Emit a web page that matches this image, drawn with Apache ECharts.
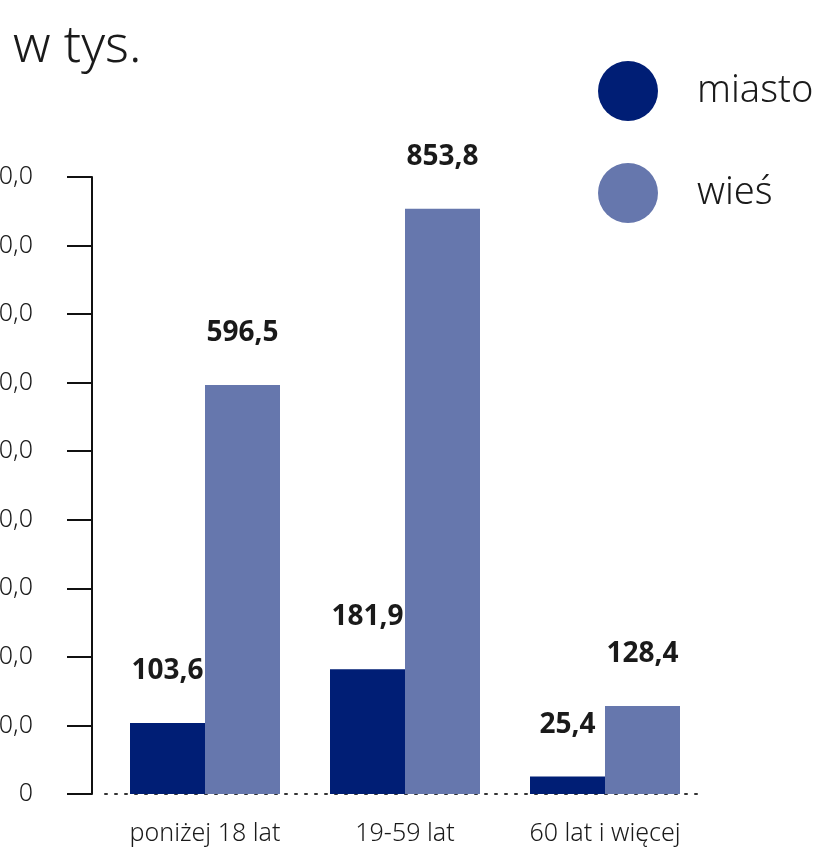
<!DOCTYPE html>
<html>
<head>
<meta charset="utf-8">
<script src="https://cdn.jsdelivr.net/npm/echarts@6/dist/echarts.min.js"></script>
<style>
    html, body { margin: 0; padding: 0; background: #fff; }
    #chart { width: 820px; height: 850px; }
</style>
</head>
<body>
<div id="chart"></div>
<script>
// dane (w tys.)
const categories = ["poniżej 18 lat", "19-59 lat", "60 lat i więcej"];
const miasto = [103.6, 181.9, 25.4];
const wies = [596.5, 853.8, 128.4];

const FONT = "'Noto Sans', 'Open Sans', sans-serif";

function fmt(v) {
    return v === 0 ? "0" : v.toFixed(1).replace(".", ",");
}

const chart = echarts.init(document.getElementById("chart"));

const valueLabel = {
    show: true,
    position: "top",
    distance: 38,
    fontFamily: FONT,
    fontSize: 28,
    fontWeight: "bold",
    color: "#1a1a1a",
    formatter: p => fmt(p.value)
};

chart.setOption({
    animation: false,
    title: {
        text: "w tys.",
        left: 8,
        top: 17,
        textStyle: {
            fontFamily: FONT,
            fontSize: 51,
            fontWeight: 300,
            color: "#1a1a1a"
        }
    },
    legend: {
        orient: "vertical",
        left: 593,
        top: 56,
        itemWidth: 60,
        itemHeight: 60,
        itemGap: 42,
        icon: "circle",
        textStyle: {
            fontFamily: FONT,
            fontSize: 38,
            fontWeight: 300,
            color: "#1a1a1a",
            padding: [0, 0, 0, 34]
        },
        data: ["miasto", "wieś"]
    },
    grid: {
        left: 105,
        right: 115,
        top: 177,
        bottom: 56,
        outerBoundsMode: "none"
    },
    xAxis: {
        type: "category",
        data: categories,
        axisLine: {
            lineStyle: { color: "#333", width: 2, type: [2, 8] }
        },
        axisTick: { show: false },
        axisLabel: {
            margin: 27,
            fontFamily: FONT,
            fontSize: 25,
            fontWeight: 300,
            color: "#1a1a1a"
        }
    },
    yAxis: {
        type: "value",
        min: 0,
        max: 900,
        interval: 100,
        offset: 13,
        splitLine: { show: false },
        axisLine: {
            show: true,
            lineStyle: { color: "#111", width: 2 }
        },
        axisTick: {
            show: true,
            length: 25,
            lineStyle: { color: "#111", width: 2 }
        },
        axisLabel: {
            margin: 59,
            fontFamily: FONT,
            fontSize: 25,
            fontWeight: 300,
            color: "#1a1a1a",
            formatter: fmt
        }
    },
    series: [
        {
            name: "miasto",
            type: "bar",
            data: miasto,
            barWidth: 75,
            barGap: "0%",
            itemStyle: { color: "#001e75" },
            label: valueLabel
        },
        {
            name: "wieś",
            type: "bar",
            data: wies,
            barWidth: 75,
            barGap: "0%",
            itemStyle: { color: "#6677ad" },
            label: valueLabel
        }
    ]
});
</script>
</body>
</html>
